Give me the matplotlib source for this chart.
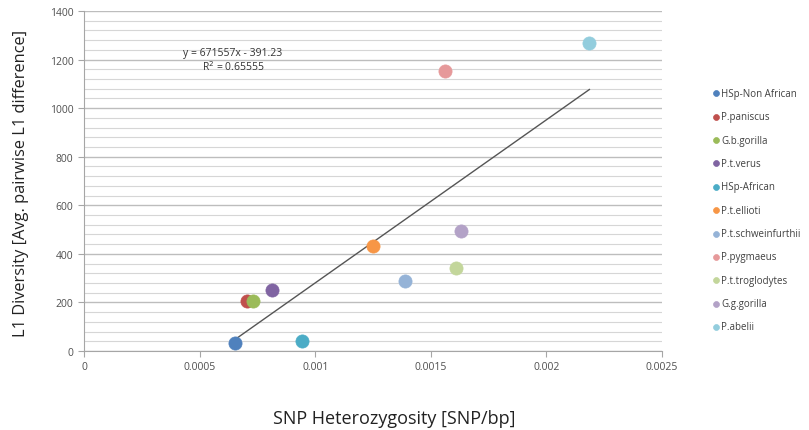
import matplotlib
matplotlib.use("Agg")
import matplotlib.pyplot as plt
from matplotlib.ticker import MultipleLocator, FixedLocator
import numpy as np

plt.rcParams['font.family'] = ['Open Sans', 'DejaVu Sans']

species = ["HSp-Non African", "P.paniscus", "G.b.gorilla", "P.t.verus", "HSp-African",
           "P.t.ellioti", "P.t.schweinfurthii", "P.pygmaeus", "P.t.troglodytes",
           "G.g.gorilla", "P.abelii"]
snp_het = [0.000654, 0.000706, 0.000732, 0.000812, 0.000945,
           0.00125, 0.00139, 0.001563, 0.00161, 0.00163, 0.002186]
l1_div = [33, 206, 206, 251, 41, 432, 288, 1155, 342, 495, 1270]
colors = ["#4F81BD", "#C0504D", "#9BBB59", "#8064A2", "#4BACC6", "#F79646",
          "#95B3D7", "#E6999A", "#C3D69B", "#B3A2C7", "#93CDDD"]
slope, intercept = 671557, -391.23
eq_text = "y = 671557x - 391.23\nR$^2$ = 0.65555"
x_ticks = [0, 0.0005, 0.001, 0.0015, 0.002, 0.0025]
x_tick_labels = ["0", "0.0005", "0.001", "0.0015", "0.002", "0.0025"]

fig = plt.figure(figsize=(8.09, 4.31), dpi=100)
ax = fig.add_axes([84/809, 1 - 352/431, (662-84)/809, (352-12)/431])

ax.set_xlim(0, 0.0025)
ax.set_ylim(0, 1400)
ax.yaxis.set_major_locator(MultipleLocator(200))
ax.yaxis.set_minor_locator(MultipleLocator(40))
ax.xaxis.set_major_locator(FixedLocator(x_ticks))
ax.set_xticklabels(x_tick_labels)
ax.grid(axis='y', which='major', color='#BDBDBD', lw=1.0)
ax.grid(axis='y', which='minor', color='#D6D6D6', lw=0.8)
ax.set_axisbelow(True)
for s in ['top', 'right']:
    ax.spines[s].set_visible(False)
for s in ['left', 'bottom']:
    ax.spines[s].set_color('#A6A6A6')
ax.tick_params(axis='both', which='major', labelsize=7.5, colors='#A6A6A6',
               labelcolor='#505050', length=4)
ax.tick_params(axis='y', which='minor', length=0)

xs = np.array([min(snp_het), max(snp_het)])
ax.plot(xs, slope * xs + intercept, color='#555555', lw=1.0, zorder=2)

for sp, x, y, c in zip(species, snp_het, l1_div, colors):
    ax.scatter([x], [y], s=90, color=c, edgecolors=c, linewidths=0.5,
               label=sp, zorder=3)

ax.text(233/809, 1 - 61/431, eq_text, transform=fig.transFigure, ha='center',
        va='center', fontsize=7.5, color='#333333', linespacing=1.05)

leg = ax.legend(loc='upper left', bbox_to_anchor=(711/809, 1 - 89/431),
                bbox_transform=fig.transFigure, frameon=False, fontsize=7.0,
                handletextpad=0.05, labelspacing=1.27, markerscale=0.45,
                handlelength=1.0, borderaxespad=0, borderpad=0)
for t in leg.get_texts():
    t.set_color('#404040')

fig.text(21/809, 1 - 183/431, "L1 Diversity [Avg. pairwise L1 difference]",
         rotation=90, ha='center', va='center', fontsize=11.8, color='#222222')
fig.text(394/809, 1 - 419/431, "SNP Heterozygosity [SNP/bp]",
         ha='center', va='center', fontsize=13, color='#222222')

fig.savefig("out.png", dpi=100)
